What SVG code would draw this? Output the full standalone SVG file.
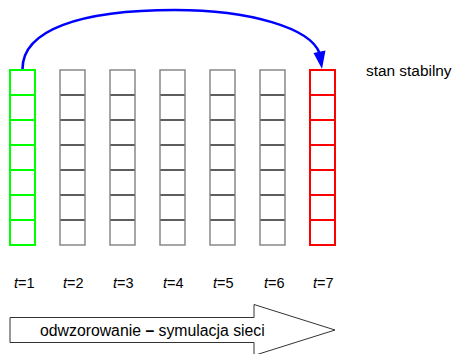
<svg xmlns="http://www.w3.org/2000/svg" width="456" height="354" viewBox="0 0 456 354">
<style>
.frame{fill:none;stroke:#808080;stroke-width:1.4}
.div{stroke:#2a2a2a;stroke-width:1.4}
.green{fill:none;stroke:#00ff00;stroke-width:2}
.red{fill:none;stroke:#ff0000;stroke-width:2}
.lbl{font-family:"Liberation Sans",Arial,sans-serif;font-size:14.5px;fill:#000}
.txt{font-family:"Liberation Sans",Arial,sans-serif;font-size:15.8px;fill:#000}
</style>
<defs>
<g id="div-lines">
<path d="M0,95H25M0,120H25M0,145H25M0,170H25M0,195H25M0,220H25"/>
</g>
</defs>
<rect width="456" height="354" fill="#fff"/>
<g id="col1">
<rect class="green" x="10" y="70" width="25" height="175"/>
<use href="#div-lines" x="10" class="green"/>
</g>
<g id="col2">
<use href="#div-lines" x="60" class="div"/>
<rect class="frame" x="60" y="70" width="25" height="175"/>
</g>
<g id="col3">
<use href="#div-lines" x="110" class="div"/>
<rect class="frame" x="110" y="70" width="25" height="175"/>
</g>
<g id="col4">
<use href="#div-lines" x="160" class="div"/>
<rect class="frame" x="160" y="70" width="25" height="175"/>
</g>
<g id="col5">
<use href="#div-lines" x="210" class="div"/>
<rect class="frame" x="210" y="70" width="25" height="175"/>
</g>
<g id="col6">
<use href="#div-lines" x="260" class="div"/>
<rect class="frame" x="260" y="70" width="25" height="175"/>
</g>
<g id="col7">
<rect class="red" x="310" y="70" width="25" height="175"/>
<use href="#div-lines" x="310" class="red"/>
</g>
<g id="connectors">
<path d="M22.5,69 C22.5,30 80,10 175,10 C250,10 310,28 319.5,53" fill="none" stroke="#0000ff" stroke-width="2.6"/>
<polygon points="322,69 313.5,53 325.5,50.5" fill="#0000ff"/>
</g>
<g id="labels">
<text class="txt" x="366" y="76" style="font-size:15.4px">stan stabilny</text>
<text class="lbl" x="14" y="288"><tspan font-style="italic">t</tspan>=1</text>
<text class="lbl" x="63" y="288"><tspan font-style="italic">t</tspan>=2</text>
<text class="lbl" x="113" y="288"><tspan font-style="italic">t</tspan>=3</text>
<text class="lbl" x="163" y="288"><tspan font-style="italic">t</tspan>=4</text>
<text class="lbl" x="213" y="288"><tspan font-style="italic">t</tspan>=5</text>
<text class="lbl" x="264" y="288"><tspan font-style="italic">t</tspan>=6</text>
<text class="lbl" x="313" y="288"><tspan font-style="italic">t</tspan>=7</text>
</g>
<g id="mapping-arrow">
<polygon points="10,317.5 254,317.5 254,304.5 335,330 254,355.5 254,342.5 10,342.5" fill="#fff" stroke="#333" stroke-width="1"/>
<text class="txt" x="40" y="335.5">odwzorowanie <tspan font-weight="bold">–</tspan> symulacja sieci</text>
</g>
</svg>
